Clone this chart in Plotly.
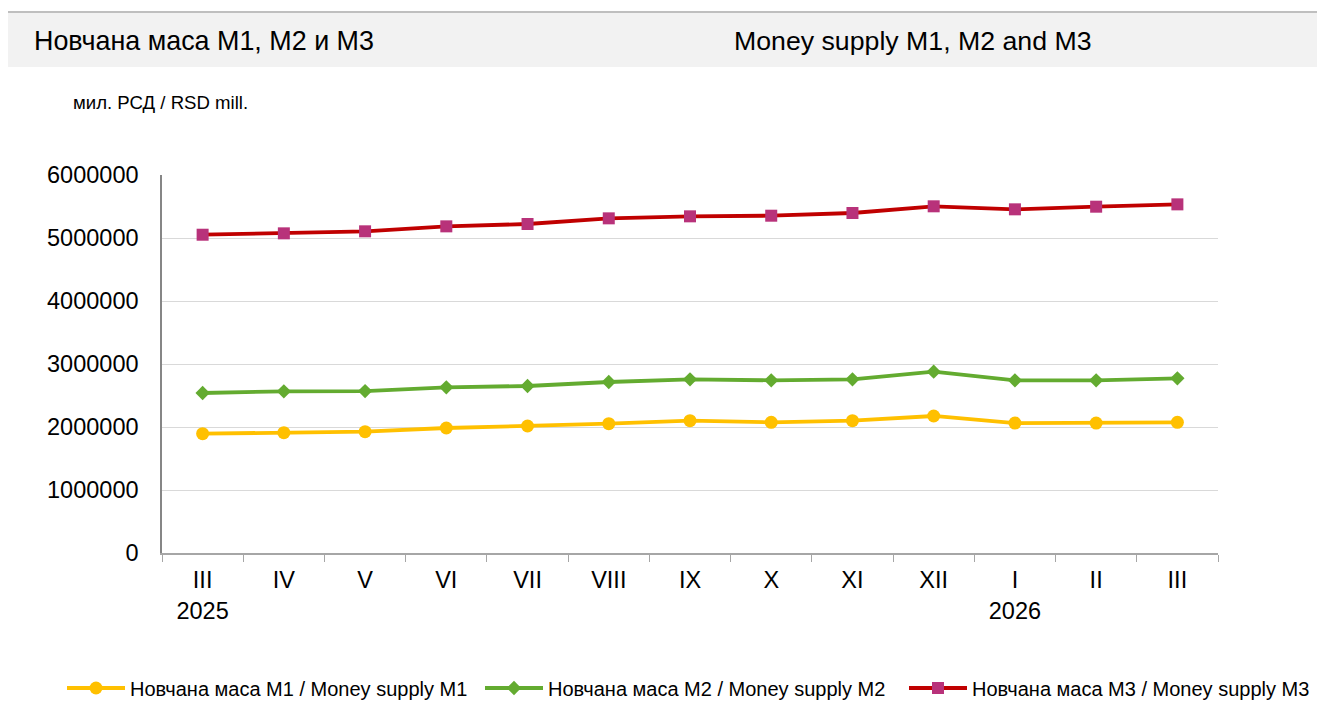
import plotly.graph_objects as go

months = ["III<br>2025", "IV", "V", "VI", "VII", "VIII", "IX", "X", "XI", "XII", "I<br>2026", "II", "III"]

m1 = [1894000, 1910000, 1926000, 1984000, 2016000, 2053000, 2101000,
      2074000, 2101000, 2175000, 2063000, 2063000, 2074000]
m2 = [2540000, 2566000, 2571000, 2630000, 2651000, 2714000, 2757000,
      2741000, 2757000, 2878000, 2741000, 2741000, 2772000]
m3 = [5052000, 5074000, 5106000, 5185000, 5222000, 5312000, 5344000,
      5354000, 5397000, 5503000, 5455000, 5497000, 5534000]

names = ["Новчана маса М1 / Money supply M1",
         "Новчана маса М2 / Money supply M2",
         "Новчана маса М3 / Money supply M3"]

# page body has an 8px margin, so work in page pixels and shift back
OFF = 8
W, H = 1325 - 2 * OFF, 727 - 2 * OFF
L, R, T, B = 162 - OFF, 1218 - OFF, 175 - OFF, 553 - OFF


def px(x):
    return (x - OFF - L) / (R - L)


def py(y):
    return (B - (y - OFF)) / (B - T)


font = "Liberation Sans, Arial, sans-serif"

fig = go.Figure()
fig.add_trace(go.Scatter(
    x=months, y=m1, name=names[0], mode="lines+markers", legend="legend",
    line=dict(color="#FFC000", width=3.8),
    marker=dict(symbol="circle", size=13, color="#FFC000"),
))
fig.add_trace(go.Scatter(
    x=months, y=m2, name=names[1], mode="lines+markers", legend="legend2",
    line=dict(color="#63AB30", width=3.8),
    marker=dict(symbol="diamond", size=11, color="#63AB30"),
))
fig.add_trace(go.Scatter(
    x=months, y=m3, name=names[2], mode="lines+markers", legend="legend3",
    line=dict(color="#C00000", width=3.8),
    marker=dict(symbol="square", size=12, color="#B8327A"),
))

shapes = [
    # title band
    dict(type="rect", xref="paper", yref="paper", layer="below",
         x0=px(6), x1=px(1340), y0=py(13), y1=py(67),
         fillcolor="#F2F2F2", line=dict(width=0)),
    # outer frame
    dict(type="line", xref="paper", yref="paper",
         x0=px(5), x1=px(5), y0=py(12), y1=py(740),
         line=dict(color="#BFBFBF", width=2)),
    dict(type="line", xref="paper", yref="paper",
         x0=px(5), x1=px(1340), y0=py(12), y1=py(12),
         line=dict(color="#BFBFBF", width=2)),
]

annotations = [
    dict(text="Новчана маса М1, М2 и М3", x=px(32), y=py(41),
         xref="paper", yref="paper", xanchor="left", yanchor="middle",
         showarrow=False, font=dict(size=26.9, color="#000000", family=font)),
    dict(text="Money supply M1, M2 and M3", x=px(732), y=py(41),
         xref="paper", yref="paper", xanchor="left", yanchor="middle",
         showarrow=False, font=dict(size=26.7, color="#000000", family=font)),
    dict(text="мил. РСД / RSD mill.", x=px(71), y=py(102),
         xref="paper", yref="paper", xanchor="left", yanchor="middle",
         showarrow=False, font=dict(size=18.6, color="#000000", family=font)),
]


def legend_at(x_page):
    return dict(orientation="h", x=px(x_page), y=py(688),
                xanchor="left", yanchor="middle",
                font=dict(size=20), itemwidth=58, bgcolor="rgba(0,0,0,0)")


fig.update_layout(
    width=W, height=H,
    margin=dict(l=L, r=W - R, t=T, b=H - B, pad=0, autoexpand=False),
    paper_bgcolor="white", plot_bgcolor="white",
    font=dict(family=font, color="#000000"),
    shapes=shapes,
    annotations=annotations,
    showlegend=True,
    legend=legend_at(62),
    legend2=legend_at(480),
    legend3=legend_at(904),
    xaxis=dict(
        type="category", range=[-0.5, len(months) - 0.5],
        tickson="boundaries", ticks="outside", ticklen=7,
        tickcolor="#A6A6A6", showline=True, linecolor="#A6A6A6", linewidth=1.5,
        showgrid=False, tickfont=dict(size=23.5), tickangle=0, ticklabelstandoff=5,
    ),
    yaxis=dict(
        range=[0, 6000000], tickvals=[0, 1000000, 2000000, 3000000, 4000000, 5000000, 6000000],
        ticktext=["0", "1000000", "2000000", "3000000", "4000000", "5000000", "6000000"],
        showgrid=True, gridcolor="#D9D9D9", gridwidth=1,
        showline=True, linecolor="#868686", linewidth=1.5,
        ticks="", tickfont=dict(size=23.5), zeroline=False, ticklabelstandoff=17,
    ),
)

fig.write_html("out.html")
